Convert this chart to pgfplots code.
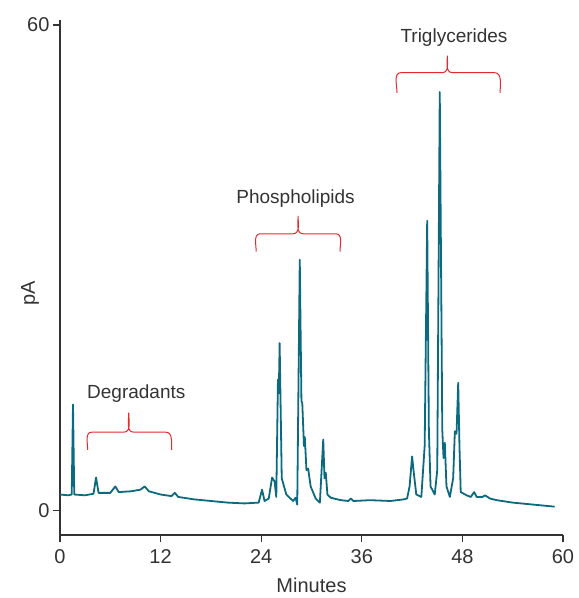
\documentclass[border=0pt]{standalone}
\usepackage{pgfplots}
\pgfplotsset{compat=1.18}
\usepackage{fontspec}
\setmainfont{Liberation Sans}
\definecolor{teal1}{HTML}{0B6A7E}
\definecolor{brk}{HTML}{E8282E}
\begin{document}
\begin{tikzpicture}
\begin{axis}[
  scale only axis, width=503pt, height=515pt,
  xmin=0, xmax=60, ymin=-3, ymax=60.6,
  axis lines=left, axis line style={-, line width=1.3pt, black!80},
  xtick={0,12,24,36,48,60}, ytick={0,60},
  tick align=outside, major tick length=7pt,
  tick style={line width=1.3pt, black!80},
  /pgf/number format/assume math mode=true,
  tick label style={font=\fontsize{20}{22}\selectfont, text=black!80},
  xticklabel style={yshift=-4pt},
  xlabel={Minutes}, ylabel={pA},
  label style={font=\fontsize{20}{22}\selectfont, text=black!80},
  xlabel style={at={(axis description cs:0.5,0)}, anchor=center, yshift=-50pt},
  ylabel style={at={(axis description cs:0,0.47)}, anchor=center, yshift=30pt},
  clip=false,
]
\addplot[teal1, line width=1.8pt, line join=round] coordinates {
(0,2.0)(1.0,1.9)(1.4,2.0)(1.55,13.1)(1.7,2.0)(3.0,1.9)(4.0,2.1)(4.3,4.1)(4.6,2.2)
(6.0,2.2)(6.6,3.0)(7.0,2.3)(8.5,2.4)(9.6,2.6)(10.1,3.0)(10.6,2.4)(12,2.0)(13.3,1.8)(13.7,2.2)(14.1,1.7)
(16,1.4)(18,1.2)(20,1.0)(22,0.9)(23.7,1.0)(24.1,2.6)(24.4,1.2)(24.9,1.5)(25.3,4.1)(25.6,3.6)(25.8,1.7)
(26.0,16.2)(26.1,14.5)(26.2,20.7)(26.45,4.0)(27,2.0)(27.8,1.2)(28.1,1.6)(28.3,0.75)(28.6,31)(28.8,13.5)(28.9,13.3)
(29.1,8.0)(29.2,9.1)(29.4,5.0)(29.6,5.2)(29.9,3.0)(30.5,1.5)(31.0,1.0)(31.4,8.8)(31.55,4.0)(31.7,4.7)(31.9,2.0)(32.3,1.6)(33.5,1.3)
(34.4,1.2)(34.7,1.5)(35.0,1.2)(37,1.3)(39.4,1.2)(41.0,1.4)(41.4,1.5)(41.7,3.0)(42.0,6.7)(42.2,4.7)(42.5,2.0)(43.1,1.7)
(43.5,8)(43.8,35.8)(44.0,10)(44.2,3.0)(44.7,2.0)(45.0,5)(45.3,51.7)(45.6,10)(45.75,6.5)(45.9,8.4)(46.1,3.0)(46.5,1.7)
(46.9,4)(47.1,9.8)(47.3,9.5)(47.5,15.8)(47.65,8)(47.8,2.3)(48.5,1.9)(49.0,1.7)(49.4,2.3)(49.7,1.7)(50.4,1.7)(50.7,1.9)(51.3,1.5)(52.1,1.3)
(54,1.0)(56,0.8)(58,0.6)(59.0,0.5)
};
\draw[brk, line width=1pt] (axis cs:3.3,7.5) to[out=90,in=180] (axis cs:3.8,9.7) -- (axis cs:7.6,9.7) to[out=0,in=-90] (axis cs:8.2,12.1) to[out=-90,in=180] (axis cs:8.8,9.7) -- (axis cs:12.6,9.7) to[out=0,in=90] (axis cs:13.3,7.5);
\node[text=black!80, font=\fontsize{19}{22}\selectfont] at (axis cs:9.1,14.5) {Degradants};
\draw[brk, line width=1pt] (axis cs:23.4,32.0) to[out=90,in=180] (axis cs:23.9,34.2) -- (axis cs:27.8,34.2) to[out=0,in=-90] (axis cs:28.4,36.4) to[out=-90,in=180] (axis cs:29.0,34.2) -- (axis cs:32.9,34.2) to[out=0,in=90] (axis cs:33.4,32.0);
\node[text=black!80, font=\fontsize{19}{22}\selectfont] at (axis cs:28.1,38.6) {Phospholipids};
\draw[brk, line width=1pt] (axis cs:40.2,51.6) to[out=90,in=180] (axis cs:40.7,54.1) -- (axis cs:45.6,54.1) to[out=0,in=-90] (axis cs:46.2,56.2) to[out=-90,in=180] (axis cs:46.8,54.1) -- (axis cs:51.8,54.1) to[out=0,in=90] (axis cs:52.5,51.6);
\node[text=black!80, font=\fontsize{19}{22}\selectfont] at (axis cs:47.0,58.4) {Triglycerides};
\end{axis}
\pgfresetboundingbox
\path ([shift={(-60pt,-63pt)}]current axis.south west) rectangle ([shift={(16pt,20pt)}]current axis.north east);
\end{tikzpicture}
\end{document}
